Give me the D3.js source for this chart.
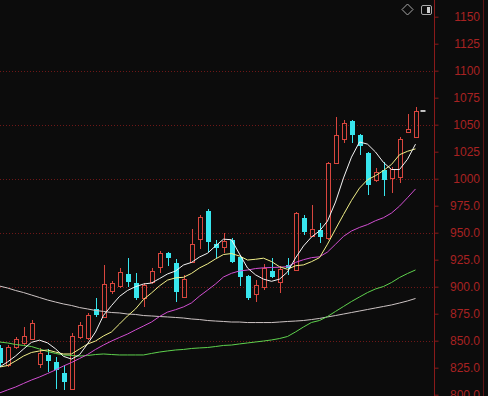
<!DOCTYPE html>
<html><head><meta charset="utf-8">
<script src="https://cdn.jsdelivr.net/npm/d3@7/dist/d3.min.js"></script>
<style>html,body{margin:0;padding:0;background:#0c0c0c;overflow:hidden}</style>
</head><body>
<svg id="c" width="488" height="396"></svg>
<script>
// ---- data ----
const opens  = [843.3,827.5,844.2,847.9,851.6,828.4,836.8,830.3,820.1,805.3,853.4,852.5,879.4,872,896,900.6,911.8,903.4,889.5,904.4,918.2,931.2,921.9,890.5,922.9,944.2,970.1,939.6,936.8,943.3,927.5,909.9,893.2,899.7,914.5,904.4,920.1,915.5,963.6,946.9,952.5,945.1,1014.5,1036.8,1053.4,1040.5,1023.8,998.8,1008.1,1000.6,1001.6,1043.2,1038.6];
const closes = [829.4,844.2,851.6,854.4,866.4,838.6,831.2,822.9,811.8,854.4,864.5,873.8,873.8,902.5,903.4,913.6,904.4,889.5,901.6,914.5,931.2,926.6,895.1,907.1,939.6,964.5,941.4,935.8,942.3,922.9,909,889.5,901.6,917.3,909,916.4,917.3,968.2,950.6,953.4,946,1014.5,1040.5,1051.6,1040.5,1030.3,994.2,1006.2,998.8,1009,1036.8,1046,1062.7];
const highs  = [846,846,853.4,862.7,869.2,843.3,842.3,834.9,827.5,857.1,867.3,875.6,889.5,920.1,905.3,917.3,926.6,912.7,903.4,917.3,933,932.1,925.6,910.8,953.4,966.4,971.9,943.3,949.7,945.1,929.4,911,906.2,921,926.6,919.2,926.6,969.2,966.4,975.6,959,1015.5,1057.1,1054.4,1054.4,1041.4,1024.7,1010,1015.5,1010.8,1038.6,1059.9,1066.4];
const lows   = [826.6,826,842.3,846,850.5,824.7,821,805.3,804.4,804.4,851.6,850.7,872,871,893.2,898.8,899.7,887.7,881.2,902.5,912.7,919.2,885.8,889.5,921.9,934.9,932.1,926.6,931.2,921.9,900.6,887.7,885.8,897,908,894.2,910.8,914.5,947.9,946,940.5,943.3,1013.6,1033.1,1033.1,1021.9,984.9,997,984,986.7,996,1042.3,1038.6];

const ma5   = [825.6,830.3,835.8,842.3,848.5,850.5,848,842.5,835.5,833,837,847,858,873.5,882.5,891,896.5,900,902.5,903.4,907.5,911.8,914.5,920.1,922.5,927.5,931,937.7,944,943.5,930.3,917.3,911,907,905,907,913.6,926.6,937.7,946,951.6,960.8,978.4,1000.7,1020,1034,1032,1024.7,1015,1008.5,1008.5,1018,1032];
const ma10  = [825.6,827,831.2,835.8,839.1,840.5,841.4,839.5,837.7,837.7,842.3,846.9,849.7,854.4,858.1,865.5,872.9,879.4,888.2,894.2,900.8,906.1,908.2,908.7,912.3,917.4,921.1,925.7,929.8,930.7,928.4,924.7,925.4,926.4,923.3,918.5,916.1,919.4,920.2,923.2,926.9,939.4,953.3,966.8,979.9,991.3,999,1002.8,1007.6,1013.2,1022.2,1025.4,1027.6];
const ma20  = [801.6,804.4,807.1,810.4,813.6,816.4,819.6,822.9,826.6,829.8,833.5,837.2,841.9,846,849.7,853,856.2,860,863.6,867.3,872.4,876.5,878.7,881.3,885,891.3,896.8,902.5,909,912.4,914.6,915.4,916.8,917.5,917.8,918,918.6,922.5,925,926.9,927.7,932.1,939.3,946.6,951.6,954.9,957.5,961.1,963.9,968.2,974.6,982.4,990.5];
const ma60  = [848.8,847.9,846.5,845.6,844.6,842.3,840,838.2,836.8,836.3,835.8,836.3,837.2,837.7,837.2,836.8,836.8,836.8,836.8,838.2,839.5,840.5,841.4,841.9,842.8,843.3,843.7,844.6,845.6,846,847,847.9,848.8,849.7,850.7,852,853.9,858.1,862.7,866.9,868.7,872.4,877.1,881.7,886.3,890.5,894.6,897.9,900.2,903.9,908.5,912.2,915.5];
const ma120 = [900.6,898.8,896.5,894.6,892.3,890,887.7,885.8,884,882.6,880.7,879.4,878,877.1,876.1,875.7,874.7,874.3,873.3,872.9,872.4,872,871.5,871,870.1,869.6,868.7,868.2,867.8,867.3,867.3,866.8,866.8,866.8,866.8,867.3,867.8,868.2,868.7,869.6,870.6,872,873.3,874.7,876.1,877.5,878.9,880.3,881.7,883.1,884.9,886.8,889.1];

const axisTicks = [1150,1125,1100,1075,1050,1025,1000,975,950,925,900,875,850,825,800];
const gridTicks = [1100,1050,1000,950,900,850];

// ---- layout ----
const W = 488, H = 396, axisX = 434.5;
const svg = d3.select('#c');
svg.append('rect').attr('width', W).attr('height', H).attr('fill', '#0c0c0c');

const y = d3.scaleLinear().domain([800, 1150]).range([394.7, 16.7]);
const x = d3.scaleLinear().domain([0, closes.length - 1]).range([-0.5, 415.5]);

svg.append('defs').append('clipPath').attr('id', 'plot')
  .append('rect').attr('x', 0).attr('y', 0).attr('width', axisX).attr('height', H);

// grid
svg.append('g').selectAll('line').data(gridTicks).join('line')
  .attr('x1', 0).attr('x2', axisX)
  .attr('y1', d => Math.round(y(d)) + 0.5).attr('y2', d => Math.round(y(d)) + 0.5)
  .attr('stroke', '#6e1818').attr('stroke-width', 1).attr('stroke-dasharray', '1,2');

const plot = svg.append('g').attr('clip-path', 'url(#plot)');

// candles
const data = closes.map((c, i) => ({i, o: opens[i], c, h: highs[i], l: lows[i]}));
const UP = '#d8463e', DOWN = '#38e6ee';
const cg = plot.append('g').attr('shape-rendering', 'crispEdges');
data.forEach(d => {
  const cx = Math.round(x(d.i));
  const up = d.c >= d.o;
  const top = Math.round(y(Math.max(d.o, d.c)));
  const bot = Math.round(y(Math.min(d.o, d.c)));
  const col = up ? UP : DOWN;
  if (up) {
    cg.append('line').attr('x1', cx + 0.5).attr('x2', cx + 0.5)
      .attr('y1', y(d.h)).attr('y2', top).attr('stroke', col);
    cg.append('line').attr('x1', cx + 0.5).attr('x2', cx + 0.5)
      .attr('y1', bot + 1).attr('y2', y(d.l)).attr('stroke', col);
    cg.append('rect').attr('x', cx - 2 + 0.5).attr('y', top + 0.5)
      .attr('width', 4).attr('height', Math.max(1, bot - top))
      .attr('fill', 'none').attr('stroke', col).attr('stroke-width', 1);
  } else {
    cg.append('line').attr('x1', cx + 0.5).attr('x2', cx + 0.5)
      .attr('y1', y(d.h)).attr('y2', y(d.l)).attr('stroke', col);
    cg.append('rect').attr('x', cx - 2).attr('y', top)
      .attr('width', 5).attr('height', Math.max(1, bot - top)).attr('fill', col);
  }
});

// moving average lines
const mas = [
  {v: ma120, c: '#cdc4c4'},
  {v: ma60,  c: '#5fd24e'},
  {v: ma20,  c: '#d24fd2'},
  {v: ma10,  c: '#f2f08a'},
  {v: ma5,   c: '#f4f4f4'}
];
const line = d3.line().x((d, i) => x(i)).y(d => y(d));
plot.append('g').selectAll('path').data(mas).join('path')
  .attr('d', m => line(m.v)).attr('fill', 'none')
  .attr('stroke', m => m.c).attr('stroke-width', 1);

// last price marker
const li = closes.length - 1;
svg.append('line').attr('x1', x(li) + 5).attr('x2', x(li) + 10)
  .attr('y1', y(closes[li])).attr('y2', y(closes[li]))
  .attr('stroke', '#ffffff').attr('stroke-width', 1.5);

// axis
svg.append('line').attr('x1', axisX).attr('x2', axisX).attr('y1', 0).attr('y2', H)
  .attr('stroke', '#8a1a1a').attr('stroke-width', 1);
svg.append('line').attr('x1', 483.5).attr('x2', 483.5).attr('y1', 0).attr('y2', H)
  .attr('stroke', '#5e1414').attr('stroke-width', 1);

const ax = d3.axisRight(y).tickValues(axisTicks).tickSize(4).tickPadding(4)
  .tickFormat(d => d >= 1000 ? String(d) : d.toFixed(1));
const ag = svg.append('g').attr('transform', `translate(${axisX},0)`).call(ax);
ag.select('.domain').remove();
ag.selectAll('.tick line').attr('stroke', '#8a1a1a');
ag.selectAll('.tick text').attr('x', 480 - axisX).attr('text-anchor', 'end')
  .attr('fill', '#a82222').attr('font-family', '"Liberation Sans", Arial, sans-serif')
  .attr('font-size', 12);

// top-right icons
svg.append('path').attr('d', 'M407.5,4 L413,9.5 L407.5,15 L402,9.5 Z')
  .attr('fill', 'none').attr('stroke', '#a8a8a8').attr('stroke-width', 1);
svg.append('rect').attr('x', 421.5).attr('y', 5.5).attr('width', 10).attr('height', 9).attr('rx', 1.5)
  .attr('fill', 'none').attr('stroke', '#a8a8a8').attr('stroke-width', 1);
svg.append('rect').attr('x', 427).attr('y', 7).attr('width', 3).attr('height', 6)
  .attr('fill', '#cfcfcf');
</script>
</body></html>
